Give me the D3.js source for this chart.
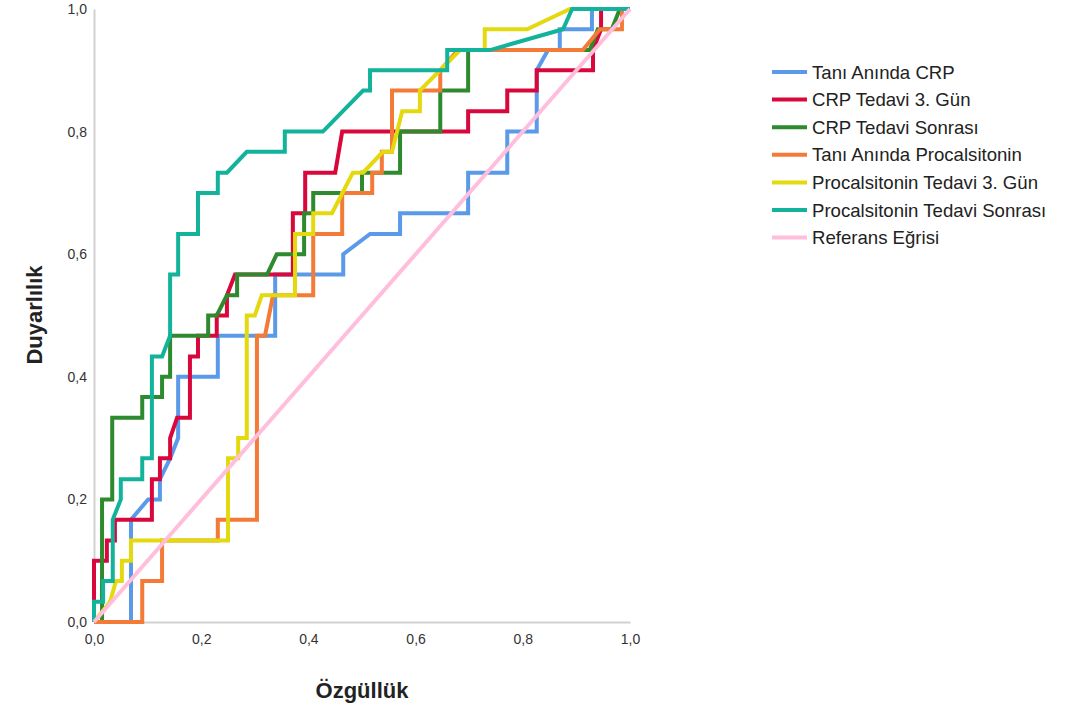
<!DOCTYPE html>
<html>
<head>
<meta charset="utf-8">
<script src="https://cdn.jsdelivr.net/npm/d3@7"></script>
<style>
  body { margin: 0; background: #fff; }
  text { font-family: "Liberation Sans", Arial, sans-serif; }
</style>
</head>
<body>
<div id="chart"></div>
<script>
// ROC curves: [1 - specificity, sensitivity]
const taniCrp = [[0,0],[.069,0],[.069,.167],[.101,.2],[.123,.2],[.123,.233],[.142,.267],[.157,.3],[.157,.4],[.231,.4],[.231,.467],[.338,.467],[.338,.567],[.465,.567],[.465,.6],[.515,.633],[.571,.633],[.571,.667],[.698,.667],[.698,.733],[.771,.733],[.771,.8],[.826,.8],[.826,.9],[.847,.933],[.869,.933],[.869,.967],[.929,.967],[.929,1],[1,1]];
const crp3Gun = [[0,0],[0,.1],[.024,.1],[.024,.133],[.039,.133],[.039,.167],[.108,.167],[.108,.233],[.123,.233],[.123,.267],[.142,.267],[.142,.3],[.155,.333],[.179,.333],[.179,.433],[.194,.433],[.194,.467],[.229,.467],[.229,.5],[.248,.5],[.248,.533],[.263,.567],[.371,.567],[.371,.667],[.394,.667],[.394,.733],[.45,.733],[.463,.8],[.698,.8],[.698,.833],[.771,.833],[.771,.867],[.826,.867],[.826,.9],[.931,.9],[.931,.933],[.946,.967],[.946,1],[1,1]];
const crpSonrasi = [[0,0],[.015,0],[.015,.2],[.034,.2],[.034,.333],[.09,.333],[.09,.367],[.127,.367],[.127,.4],[.142,.4],[.142,.467],[.213,.467],[.213,.5],[.229,.5],[.248,.533],[.267,.533],[.267,.567],[.323,.567],[.341,.6],[.392,.6],[.392,.667],[.409,.667],[.409,.7],[.5,.7],[.5,.733],[.571,.733],[.571,.8],[.646,.8],[.646,.867],[.698,.867],[.698,.933],[.925,.933],[.94,.967],[.966,.967],[.981,1],[1,1]];
const taniPct = [[0,0],[.09,0],[.09,.067],[.127,.067],[.127,.133],[.231,.133],[.231,.167],[.304,.167],[.304,.467],[.319,.467],[.334,.533],[.409,.533],[.409,.633],[.463,.633],[.463,.7],[.519,.7],[.519,.733],[.537,.733],[.537,.767],[.556,.767],[.556,.867],[.646,.867],[.646,.9],[.679,.933],[.912,.933],[.944,.967],[.985,.967],[.985,1],[1,1]];
const pct3Gun = [[0,0],[.03,.033],[.041,.067],[.052,.067],[.052,.1],[.069,.1],[.069,.133],[.25,.133],[.25,.267],[.269,.267],[.269,.3],[.285,.3],[.285,.5],[.3,.5],[.313,.533],[.375,.533],[.375,.633],[.409,.633],[.409,.667],[.444,.667],[.483,.733],[.502,.733],[.539,.767],[.556,.767],[.575,.833],[.608,.833],[.608,.867],[.683,.933],[.729,.933],[.729,.967],[.808,.967],[.888,1],[1,1]];
const pctSonrasi = [[0,0],[0,.033],[.017,.033],[.017,.067],[.035,.067],[.035,.167],[.05,.2],[.05,.233],[.09,.233],[.09,.267],[.108,.267],[.108,.433],[.127,.433],[.142,.467],[.142,.567],[.157,.567],[.157,.633],[.194,.633],[.194,.7],[.231,.7],[.231,.733],[.248,.733],[.285,.767],[.356,.767],[.356,.8],[.427,.8],[.502,.867],[.515,.867],[.515,.9],[.659,.9],[.659,.933],[.739,.933],[.875,.967],[.892,1],[1,1]];
const referans = [[0,0],[1,1]];

const seriesNames = ["Tanı Anında CRP", "CRP Tedavi 3. Gün", "CRP Tedavi Sonrası", "Tanı Anında Procalsitonin", "Procalsitonin Tedavi 3. Gün", "Procalsitonin Tedavi Sonrası", "Referans Eğrisi"];
const seriesData = [taniCrp, crp3Gun, crpSonrasi, taniPct, pct3Gun, pctSonrasi, referans];
const colors = ["#5b9ae8", "#d8083c", "#2e8a2e", "#f47a38", "#e3d90e", "#13b39b", "#ffbfdc"];
const ticks = [0, 0.2, 0.4, 0.6, 0.8, 1.0];

const width = 1084, height = 710;

const svg = d3.select("#chart")
  .append("svg")
    .attr("width", width)
    .attr("height", height);

const x = d3.scaleLinear().domain([0, 1]).range([94, 630]);
const y = d3.scaleLinear().domain([0, 1]).range([622, 9]);

const fmt = d => d3.format(".1f")(d).replace(".", ",");

// axes
const xAxis = svg.append("g")
    .attr("transform", "translate(0,622)")
    .call(d3.axisBottom(x).tickValues(ticks).tickFormat(fmt).tickSize(0).tickPadding(12));

const yAxis = svg.append("g")
    .attr("transform", "translate(94,0)")
    .call(d3.axisLeft(y).tickValues(ticks).tickFormat(fmt).tickSize(0).tickPadding(7));

[xAxis, yAxis].forEach(a => {
  a.select(".domain").attr("stroke", "#d2d2d2").attr("stroke-width", 2);
  a.selectAll("text")
    .attr("font-family", "Liberation Sans, Arial, sans-serif")
    .attr("font-size", 14)
    .attr("fill", "#333");
});

// curves
const line = d3.line()
    .x(d => x(d[0]))
    .y(d => y(d[1]));

svg.append("g")
  .selectAll("path")
  .data(seriesData)
  .join("path")
    .attr("d", line)
    .attr("fill", "none")
    .attr("stroke", (d, i) => colors[i])
    .attr("stroke-width", 4);

// axis titles
svg.append("text")
    .attr("x", 362)
    .attr("y", 698)
    .attr("text-anchor", "middle")
    .attr("font-size", 22)
    .attr("font-weight", "bold")
    .attr("fill", "#222")
    .text("Özgüllük");

svg.append("text")
    .attr("transform", "translate(42,315) rotate(-90)")
    .attr("text-anchor", "middle")
    .attr("font-size", 22)
    .attr("font-weight", "bold")
    .attr("fill", "#222")
    .text("Duyarlılık");

// legend
const legend = svg.append("g")
    .attr("transform", "translate(772,72)");

const rows = legend.selectAll("g")
  .data(seriesNames)
  .join("g")
    .attr("transform", (d, i) => `translate(0,${i * 27.6})`);

rows.append("line")
    .attr("x1", 0)
    .attr("x2", 35)
    .attr("stroke", (d, i) => colors[i])
    .attr("stroke-width", 4);

rows.append("text")
    .attr("x", 40)
    .attr("dy", "0.35em")
    .attr("font-size", 18.6)
    .attr("fill", "#222")
    .text(d => d);
</script>
</body>
</html>
